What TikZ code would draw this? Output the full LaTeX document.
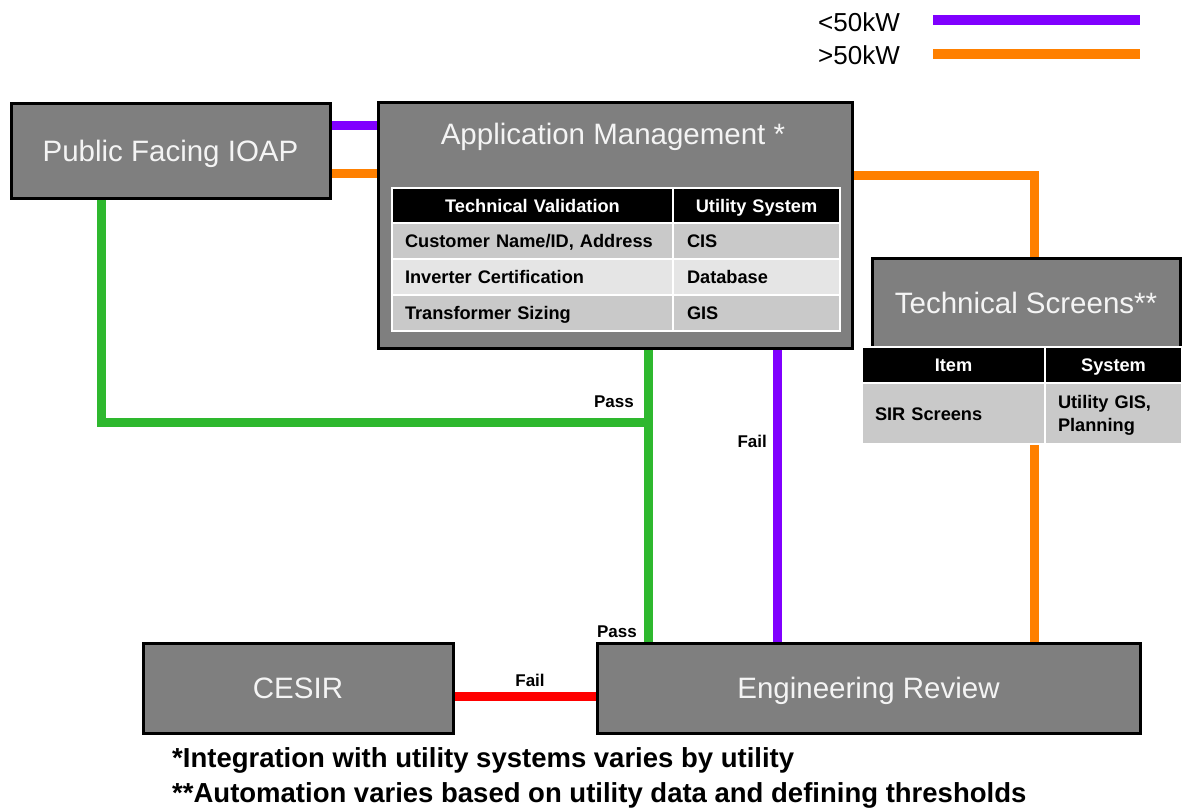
\documentclass[tikz,border=0pt]{standalone}
\usepackage{fontspec}
\setmainfont{Liberation Sans}
\usetikzlibrary{calc}
\pgfdeclarelayer{background}
\pgfsetlayers{background,main}

\definecolor{boxgray}{HTML}{7F7F7F}
\definecolor{cellA}{HTML}{C9C9C9}
\definecolor{cellB}{HTML}{E5E5E5}
\definecolor{lineviolet}{HTML}{8000FF}
\definecolor{lineorange}{HTML}{FF8000}
\definecolor{linegreen}{HTML}{2EB82E}
\definecolor{linered}{HTML}{FF0000}
\definecolor{titlewhite}{HTML}{F4F4F4}

\begin{document}
\begin{tikzpicture}[x=1pt,y=-1pt,
  stage/.style={draw=black,line width=3pt,fill=boxgray,text=titlewhite,
    inner sep=0pt,outer sep=0pt,anchor=north west,
    text height=21pt,text depth=0pt,
    font=\fontsize{29.5}{34}\selectfont},
  cell/.style={draw=white,line width=2.5pt,inner ysep=0pt,outer sep=0pt,
    anchor=north west,font=\bfseries\fontsize{18.2}{23}\selectfont},
  oneline/.style={text height=13pt,text depth=0pt},
  headcell/.style={cell,oneline,fill=black,text=white,align=center},
  bodycell/.style={cell,text=black,align=left},
  wire/.style={line width=9pt},
  keyline/.style={line width=10pt},
  tag/.style={font=\bfseries\fontsize{17}{20}\selectfont,inner sep=0pt},
  keytext/.style={font=\fontsize{26}{30}\selectfont,inner sep=0pt,anchor=west},
  note/.style={font=\bfseries\fontsize{27.5}{32}\selectfont,inner sep=0pt,anchor=base west},
]
\useasboundingbox (0,0) rectangle (1182,809);

% legend
\node[keytext] (klow) at (818,22) {<50kW};
\node[keytext] (khigh) at (818,55) {>50kW};
\coordinate (kv1) at (933,20);
\coordinate (kv2) at (1140,20);
\coordinate (ko1) at (933,54);
\coordinate (ko2) at (1140,54);
\draw[keyline,lineviolet] (kv1) -- (kv2);
\draw[keyline,lineorange] (ko1) -- (ko2);

% process boxes
\node[stage,minimum width=319pt,minimum height=95pt] (ioap) at (11,103) {Public Facing IOAP};
\node[stage,minimum width=474pt,minimum height=246pt] (appmgmt) at (378,102) {};
\node[font=\fontsize{29.5}{34}\selectfont,text=titlewhite,inner sep=0pt,
  text height=21pt,text depth=0pt] (apptitle) at (613,134) {Application Management *};
\node[stage,minimum width=308pt,minimum height=89pt] (tech) at (872,258) {Technical Screens**};
\node[stage,minimum width=310pt,minimum height=90pt] (cesir) at (143,643) {CESIR};
\node[stage,minimum width=543pt,minimum height=90pt] (eng) at (597,643) {Engineering Review};

% validation table
\node[headcell,text width=255pt,inner xsep=13pt,minimum height=35pt] (tvh) at (392,188) {Technical Validation};
\node[headcell,text width=139pt,inner xsep=14pt,minimum height=35pt] (ush) at (673,188) {Utility System};
\node[bodycell,oneline,fill=cellA,text width=255pt,inner xsep=13pt,minimum height=36pt] (r1a) at (392,223) {Customer Name/ID, Address};
\node[bodycell,oneline,fill=cellA,text width=139pt,inner xsep=14pt,minimum height=36pt] (r1b) at (673,223) {CIS};
\node[bodycell,oneline,fill=cellB,text width=255pt,inner xsep=13pt,minimum height=36pt] (r2a) at (392,259) {Inverter Certification};
\node[bodycell,oneline,fill=cellB,text width=139pt,inner xsep=14pt,minimum height=36pt] (r2b) at (673,259) {Database};
\node[bodycell,oneline,fill=cellA,text width=255pt,inner xsep=13pt,minimum height=36pt] (r3a) at (392,295) {Transformer Sizing};
\node[bodycell,oneline,fill=cellA,text width=139pt,inner xsep=14pt,minimum height=36pt] (r3b) at (673,295) {GIS};

% screens table
\node[headcell,text width=157pt,inner xsep=13pt,minimum height=36pt] (ith) at (862,347) {Item};
\node[headcell,text width=111pt,inner xsep=13pt,minimum height=36pt] (sysh) at (1045,347) {System};
\node[bodycell,oneline,fill=cellA,text width=157pt,inner xsep=13pt,minimum height=61pt] (sir) at (862,383) {SIR Screens};
\node[bodycell,fill=cellA,text width=111pt,inner xsep=13pt,minimum height=61pt,
  text height=13pt,text depth=23pt] (gis) at (1045,383) {Utility GIS,\\Planning};

% trunk positions
\coordinate (gtrunk) at (648,422);
\coordinate (vtrunk) at (777,0);
\coordinate (otrunk) at (1034,0);

% connectors
\begin{pgfonlayer}{background}
\draw[wire,lineviolet] ([yshift=25.5pt]ioap.east) -- ([yshift=25.5pt]ioap.east -| appmgmt.west);
\draw[wire,lineorange] ([yshift=-22.5pt]ioap.east) -- ([yshift=-22.5pt]ioap.east -| appmgmt.west);
\draw[wire,lineorange] ([yshift=50pt]appmgmt.east) -| (tech.north -| otrunk);
\draw[wire,lineorange] (sir.south -| otrunk) -- (eng.north -| otrunk);
\draw[wire,linegreen] ([xshift=-69.5pt]ioap.south) |- (gtrunk);
\draw[wire,linegreen] (appmgmt.south -| gtrunk) -- (eng.north -| gtrunk);
\draw[wire,lineviolet] (appmgmt.south -| vtrunk) -- (eng.north -| vtrunk);
\draw[wire,linered] ([yshift=-8pt]cesir.east) -- ([yshift=-8pt]cesir.east -| eng.west);
\end{pgfonlayer}

% connector labels
\node[tag,anchor=base east] (passA) at (634,407) {Pass};
\node[tag,anchor=base east] (failA) at (767,447) {Fail};
\node[tag,anchor=base east] (passB) at (637,637) {Pass};
\node[tag,anchor=base] (failB) at (530,686) {Fail};

% footnotes
\node[note] (noteA) at (172,767) {*Integration with utility systems varies by utility};
\node[note] (noteB) at (172,802) {**Automation varies based on utility data and defining thresholds};
\end{tikzpicture}
\end{document}
